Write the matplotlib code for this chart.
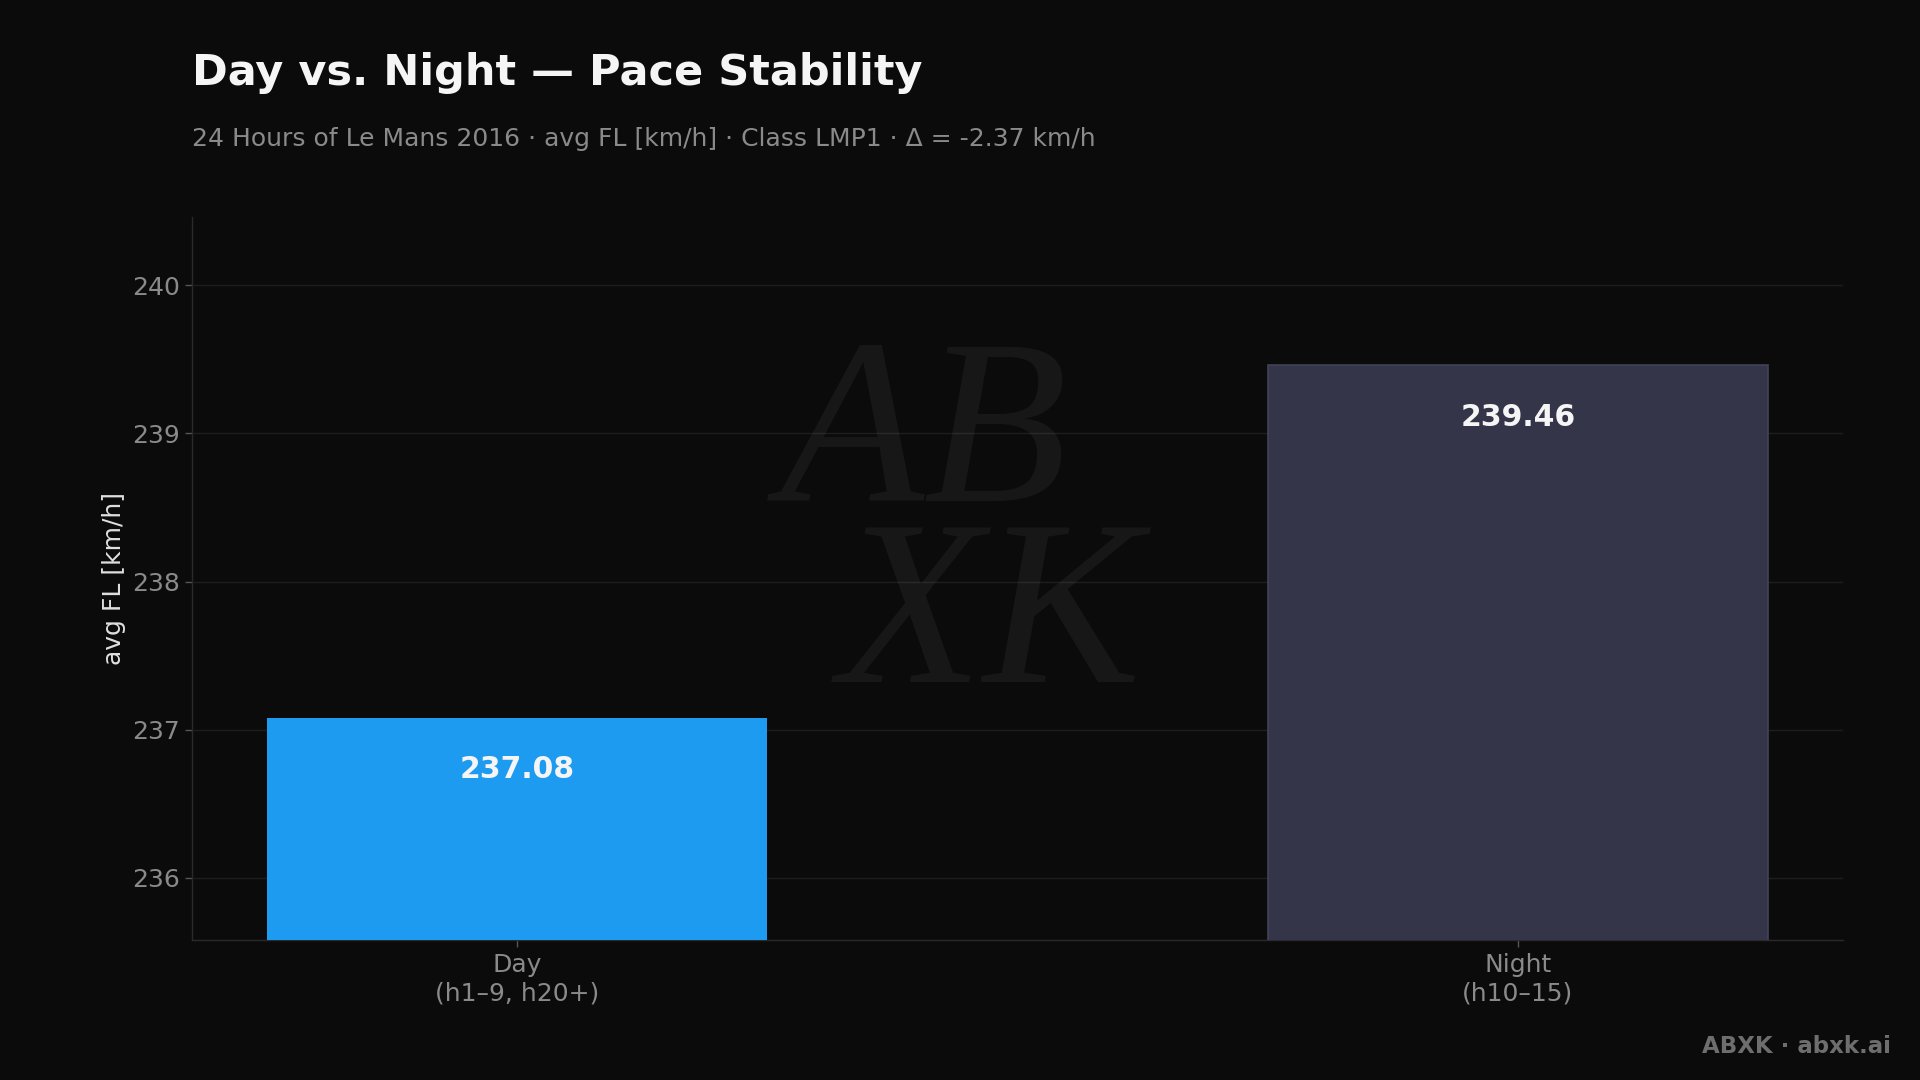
import matplotlib
matplotlib.use("Agg")
import matplotlib.pyplot as plt

# ---- data ----
categories = ["Day\n(h1–9, h20+)", "Night\n(h10–15)"]
values = [237.08, 239.46]
value_labels = ["237.08", "239.46"]
bar_colors = ["#1d9bf0", "#35354a"]
yticks = [236, 237, 238, 239, 240]

title = "Day vs. Night — Pace Stability"
subtitle = "24 Hours of Le Mans 2016 · avg FL [km/h] · Class LMP1 · Δ = -2.37 km/h"
ylabel = "avg FL [km/h]"
footer = "ABXK · abxk.ai"
watermark = "AB\n XK"

BG = "#0b0b0b"
plt.rcParams['font.family'] = ['DejaVu Sans']

fig = plt.figure(figsize=(19.2, 10.8), dpi=100, facecolor=BG)
ax = fig.add_axes([0.1, 0.1296, 0.86, 0.6694], facecolor=BG)

# watermark (single text object)
fig.text(0.50, 0.505, watermark, fontsize=170, fontstyle="italic", family="Liberation Serif",
         color="#ffffff", alpha=0.05, ha="center", va="center", multialignment="left",
         linespacing=0.8, zorder=0)
ax.patch.set_alpha(0)

x = list(range(len(categories)))
bars = ax.bar(x, values, width=0.5, color=bar_colors, zorder=3)
bars[1].set_edgecolor("#42425a")
bars[1].set_linewidth(1.2)

ax.set_ylim(235.58, 240.46)
ax.set_yticks(yticks)
ax.set_xticks(x)
ax.set_xticklabels(categories, linespacing=1.25)

for xi, v, lab in zip(x, values, value_labels):
    ax.annotate(lab, xy=(xi, v), xytext=(0, -27), textcoords="offset points",
                ha="center", va="top", fontsize=21.5, fontweight="bold",
                color="#f5f5f5", zorder=4)

ax.grid(axis="y", color="#1e1e1e", linewidth=1.0, zorder=0)
ax.set_axisbelow(True)
for s in ["top", "right"]:
    ax.spines[s].set_visible(False)
for s in ["left", "bottom"]:
    ax.spines[s].set_color("#2a2a2a")
    ax.spines[s].set_linewidth(1.0)

ax.tick_params(axis="both", colors="#555555", labelcolor="#8a8a8a",
               labelsize=18, length=5, width=1, pad=4)
ax.set_ylabel(ylabel, fontsize=18, color="#e0e0e0", labelpad=4)

fig.text(0.1, 0.921, title, fontsize=31, fontweight="bold", color="#f5f5f5",
         ha="left", va="baseline")
fig.text(0.1, 0.865, subtitle, fontsize=18, color="#8a8a8a",
         ha="left", va="baseline")
fig.text(0.985, 0.025, footer, fontsize=16.5, fontweight="bold", color="#6e6e6e",
         ha="right", va="baseline")

fig.savefig("out.png", dpi=100, facecolor=BG)
